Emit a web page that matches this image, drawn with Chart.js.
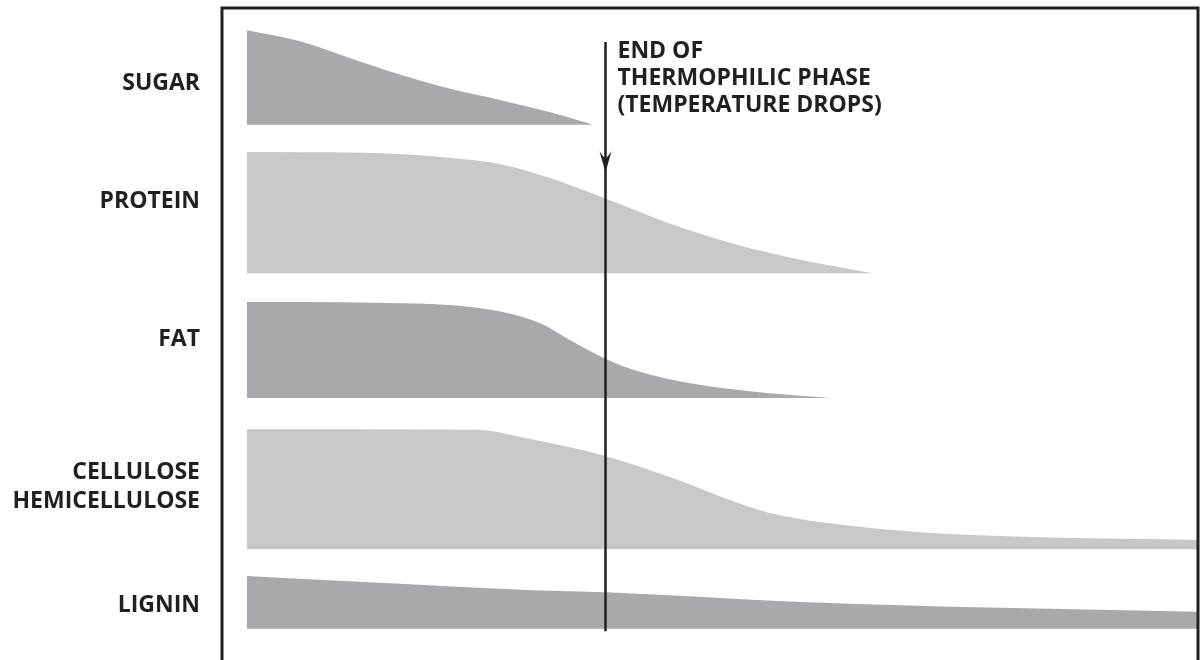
<!DOCTYPE html>
<html><head><meta charset="utf-8">
<script src="https://cdn.jsdelivr.net/npm/chart.js@4"></script>
<style>html,body{margin:0;padding:0;background:#fff}#wrap{width:1201px;height:660px;position:relative}</style>
</head><body><div id="wrap"><canvas id="c"></canvas></div>
<script>
// ---- data (x: time units, y: relative amount on a common vertical scale) ----
const categories = ['SUGAR', 'PROTEIN', 'FAT', ['CELLULOSE', 'HEMICELLULOSE'], 'LIGNIN'];
const labelPos   = [88.5, 70.4, 49.1, 26.5, 8.3];
const baselines  = [82.1, 59.3, 40.2, 17.0, 4.8];

const sugarX = [0, 5.6, 10.9, 16.1, 21.4, 26.6, 31.9, 36.4];
const sugarY = [96.6, 94.9, 92.3, 89.8, 87.6, 85.9, 84.0, 82.1];

const proteinX = [0, 12.1, 20.7, 27.2, 31.5, 37.7, 44.4, 50.8, 57.2, 65.8];
const proteinY = [77.9, 77.8, 77.1, 75.9, 74.1, 70.8, 67.0, 64.0, 61.7, 59.3];

const fatX = [0, 13.3, 25.3, 30.8, 34.3, 37.7, 41.3, 47.6, 55.0, 61.3];
const fatY = [54.9, 54.8, 53.8, 51.7, 48.8, 46.2, 44.2, 42.2, 40.9, 40.2];

const celluloseX = [0, 24.2, 29.4, 37.7, 44.4, 51.6, 55.1, 66.6, 79.2, 100];
const celluloseY = [35.4, 35.3, 34.0, 31.3, 28.1, 24.1, 22.5, 20.1, 19.0, 18.4];

const ligninX = [0, 16.1, 30.1, 37.7, 58.2, 79.2, 100];
const ligninY = [12.9, 11.7, 10.7, 10.4, 8.9, 8.0, 7.4];

const phaseEnd = 37.7;                 // end of thermophilic phase (x)
const annotationLines = ['END OF', 'THERMOPHILIC PHASE', '(TEMPERATURE DROPS)'];

// ---- styles ----
const DARK = '#a7a9ac', LIGHT = '#c7c8ca', INK = '#231f20';
const FONT = '"Open Sans", "DejaVu Sans", sans-serif';

const series = [
  [sugarX, sugarY, DARK],
  [proteinX, proteinY, LIGHT],
  [fatX, fatY, DARK],
  [celluloseX, celluloseY, LIGHT],
  [ligninX, ligninY, DARK]
];

const datasets = series.map((s, i) => ({
  data: s[0].map((x, j) => ({x, y: s[1][j]})),
  fill: {value: baselines[i]},
  backgroundColor: s[2],
  borderColor: 'rgba(0,0,0,0)',
  borderWidth: 0,
  pointRadius: 0,
  cubicInterpolationMode: 'monotone'
}));

const framePlugin = {
  id: 'frame',
  afterDatasetsDraw(chart) {
    const {ctx, chartArea: a, scales: {x, y}} = chart;
    ctx.save();
    ctx.strokeStyle = INK;
    ctx.lineWidth = 3;
    ctx.beginPath();
    ctx.moveTo(a.left, a.bottom);
    ctx.lineTo(a.left, a.top);
    ctx.lineTo(a.right, a.top);
    ctx.lineTo(a.right, a.bottom);
    ctx.stroke();

    // arrow
    const ax = Math.round(x.getPixelForValue(phaseEnd)) + 0.5;
    const top = y.getPixelForValue(94.8), bot = y.getPixelForValue(4.4);
    const tip = y.getPixelForValue(74.8);
    ctx.lineWidth = 2.5;
    ctx.beginPath();
    ctx.moveTo(ax, top);
    ctx.lineTo(ax, bot);
    ctx.stroke();
    ctx.fillStyle = INK;
    ctx.beginPath();
    ctx.moveTo(ax, tip);
    ctx.lineTo(ax - 6, tip - 21);
    ctx.quadraticCurveTo(ax - 2, tip - 15, ax, tip - 14);
    ctx.quadraticCurveTo(ax + 2, tip - 15, ax + 6, tip - 21);
    ctx.closePath();
    ctx.fill();

    // annotation text
    ctx.font = 'bold 23px ' + FONT;
    ctx.textAlign = 'left';
    ctx.textBaseline = 'alphabetic';
    annotationLines.forEach((t, i) => {
      ctx.fillText(t, ax + 12, a.top + 50 + i * 27);
    });
    ctx.restore();
  }
};

new Chart(document.getElementById('c'), {
  type: 'line',
  data: {datasets},
  options: {
    responsive: true,
    maintainAspectRatio: false,
    animation: false,
    events: [],
    layout: {padding: {top: 8, right: 3, bottom: 0, left: 0}},
    plugins: {legend: {display: false}, tooltip: {enabled: false}},
    scales: {
      x: {type: 'linear', min: -2.6, max: 100, display: false},
      y: {
        type: 'linear', min: 0, max: 100, position: 'left',
        border: {display: false},
        grid: {display: false, drawTicks: false},
        afterBuildTicks: s => { s.ticks = labelPos.map(v => ({value: v})); },
        afterFit: s => { s.width = 222; s.paddingTop = 0; s.paddingBottom = 0; },
        ticks: {
          autoSkip: false,
          padding: 22,
          color: INK,
          font: {family: FONT, weight: 'bold', size: 23, lineHeight: 1.25},
          callback: (v, i) => categories[i]
        }
      }
    }
  },
  plugins: [framePlugin]
});
</script>
</body></html>
